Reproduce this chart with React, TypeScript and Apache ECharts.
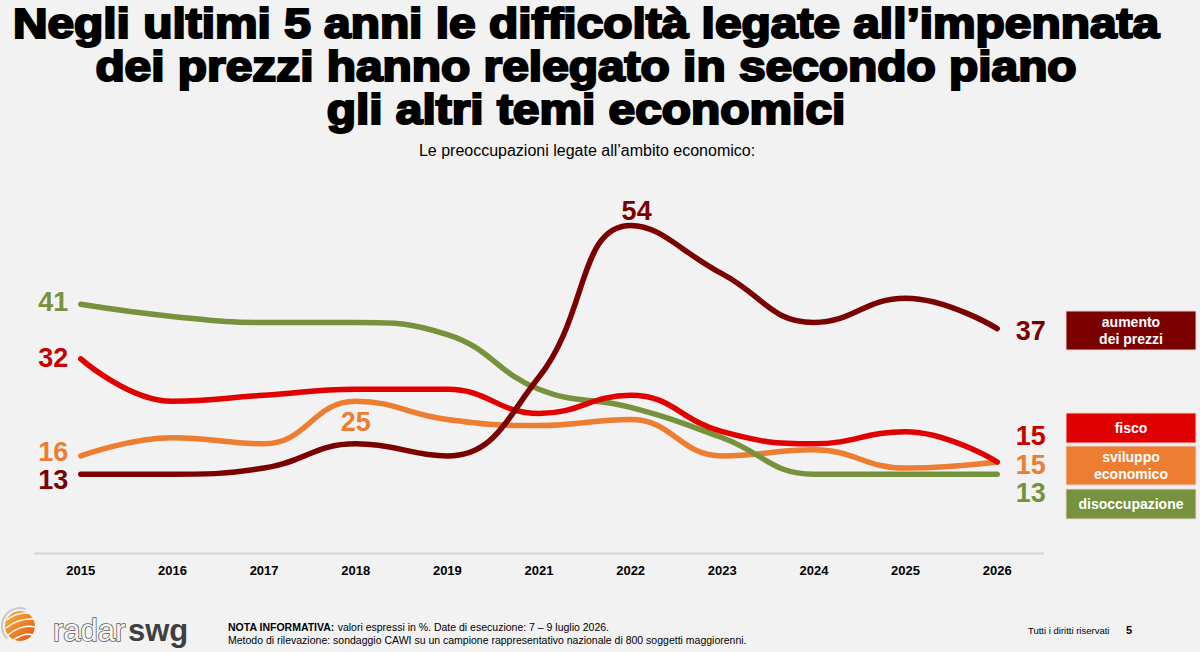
import React, { useEffect, useRef } from "react";
import * as echarts from "echarts";

const years = ["2015", "2016", "2017", "2018", "2019", "2021", "2022", "2023", "2024", "2025", "2026"];
const prezzi = [13, 13, 14, 18, 16, 29, 54, 46, 38, 42, 37];
const fisco = [32, 25, 26, 27, 27, 23, 26, 20, 18, 20, 15];
const sviluppo = [16, 19, 18, 25, 22, 21, 22, 16, 17, 14, 15];
const disoccupazione = [41, 39, 38, 38, 36, 27, 24, 19, 13, 13, 13];

const titleLines = [
  "Negli ultimi 5 anni le difficoltà legate all\u2019impennata",
  "dei prezzi hanno relegato in secondo piano",
  "gli altri temi economici",
];
const subtitle = "Le preoccupazioni legate all\u2019ambito economico:";
const legendNames = ["aumento\ndei prezzi", "fisco", "sviluppo\neconomico", "disoccupazione"];

const C_PREZZI = "#7b0000";
const C_FISCO = "#e10000";
const C_FISCO_LBL = "#c80000";
const C_SVIL = "#ed7d31";
const C_DIS = "#76923c";
const FF = "'Liberation Sans', Arial, sans-serif";

function build(vals: number[], labelColor: string, cfg: Record<number, any>) {
  return vals.map((v, i) =>
    cfg[i]
      ? {
          value: v,
          label: {
            show: true,
            color: labelColor,
            fontSize: 27,
            lineHeight: 24,
            fontWeight: "bold",
            fontFamily: FF,
            ...cfg[i],
          },
        }
      : v
  );
}

const last = years.length - 1;

export default function App() {
  const ref = useRef<HTMLDivElement>(null);
  useEffect(() => {
    const chart = echarts.init(ref.current!, null, { renderer: "svg" });
    const lineSeries = (name: string, data: any[], color: string) => ({
      name,
      type: "line",
      data,
      smooth: 0.45,
      symbol: "circle",
      symbolSize: 1,
      itemStyle: { color },
      lineStyle: { color, width: 5.5, cap: "round" },
      emphasis: { disabled: true },
      label: { show: false },
    });
    const legendBoxes = [
      { y: 311, h: 39, color: C_PREZZI, text: legendNames[0] },
      { y: 413, h: 30, color: C_FISCO, text: legendNames[1] },
      { y: 446, h: 39, color: C_SVIL, text: legendNames[2] },
      { y: 489, h: 30, color: C_DIS, text: legendNames[3] },
    ];
    const graphics: any[] = [];
    titleLines.forEach((t, i) => {
      graphics.push({
        type: "text",
        x: 586,
        y: 24 + i * 43,
        scaleX: 1.14,
        style: {
          text: t,
          x: 0,
          y: 0,
          textAlign: "center",
          textVerticalAlign: "middle",
          font: `bold 42px ${FF}`,
          lineHeight: 40,
          fill: "#000",
          stroke: "#000",
          lineWidth: 2.2,
        },
      });
    });
    graphics.push({
      type: "text",
      x: 587,
      y: 150,
      style: {
        text: subtitle,
        textAlign: "center",
        textVerticalAlign: "middle",
        font: `16px ${FF}`,
        fill: "#000",
      },
    });
    legendBoxes.forEach((b) => {
      graphics.push({
        type: "rect",
        shape: { x: 1066, y: b.y, width: 130, height: b.h },
        style: { fill: b.color, stroke: "#f3d2d2", lineWidth: 1 },
      });
      graphics.push({
        type: "text",
        x: 1131,
        y: b.y + b.h / 2,
        style: {
          text: b.text,
          textAlign: "center",
          textVerticalAlign: "middle",
          font: `bold 14px ${FF}`,
          lineHeight: 17,
          fill: "#fff",
        },
      });
    });
    // logo
    graphics.push({
      type: "arc",
      shape: { cx: 20, cy: 626, r: 18, startAngle: Math.PI * 0.75, endAngle: Math.PI * 1.6 },
      style: { stroke: "#c8c8c8", lineWidth: 2, fill: null },
    });
    graphics.push({
      type: "circle",
      shape: { cx: 20, cy: 626, r: 15 },
      style: {
        fill: new echarts.graphic.LinearGradient(0, 0, 1, 1, [
          { offset: 0, color: "#fbb03b" },
          { offset: 1, color: "#e2570f" },
        ]),
      },
    });
    [
      [7, 620, 16, 612, 29, 613],
      [6, 628, 18, 618, 34, 619],
      [8, 635, 22, 624, 35, 627],
      [13, 640, 25, 632, 33, 635],
    ].forEach((c) => {
      graphics.push({
        type: "bezierCurve",
        shape: { x1: c[0], y1: c[1], cpx1: c[2], cpy1: c[3], x2: c[4], y2: c[5] },
        style: { stroke: "#fff", lineWidth: 1.5, fill: null },
      });
    });
    graphics.push({
      type: "text",
      x: 53,
      y: 630,
      style: {
        text: "radar",
        textVerticalAlign: "middle",
        font: `31px ${FF}`,
        fill: "#f7f7f7",
        stroke: "#5a5a5a",
        lineWidth: 1.6,
      },
    });
    graphics.push({
      type: "text",
      x: 128,
      y: 630,
      style: {
        text: "swg",
        textVerticalAlign: "middle",
        font: `bold 31px ${FF}`,
        fill: "#3f3f3f",
      },
    });
    graphics.push({
      type: "text",
      x: 228,
      y: 627,
      style: {
        text: "{b|NOTA INFORMATIVA:} valori espressi in %. Date di esecuzione: 7 \u2013 9 luglio 2026.",
        textVerticalAlign: "middle",
        font: `10.5px ${FF}`,
        fill: "#000",
        rich: { b: { fontWeight: "bold", fontSize: 10.5, fontFamily: FF, fill: "#000" } },
      },
    });
    graphics.push({
      type: "text",
      x: 228,
      y: 640,
      style: {
        text: "Metodo di rilevazione: sondaggio CAWI su un campione rappresentativo nazionale di 800 soggetti maggiorenni.",
        textVerticalAlign: "middle",
        font: `10.5px ${FF}`,
        fill: "#000",
      },
    });
    graphics.push({
      type: "text",
      x: 1028,
      y: 630,
      style: {
        text: "Tutti i diritti riservati",
        textVerticalAlign: "middle",
        font: `9.5px ${FF}`,
        fill: "#000",
      },
    });
    graphics.push({
      type: "text",
      x: 1126,
      y: 630,
      style: {
        text: "5",
        textVerticalAlign: "middle",
        font: `bold 11px ${FF}`,
        fill: "#000",
      },
    });

    chart.setOption({
      animation: false,
      backgroundColor: "#f2f2f2",
      grid: { left: 35, right: 157, top: 189, bottom: 99 },
      xAxis: {
        type: "category",
        data: years,
        boundaryGap: true,
        axisLine: { show: true, lineStyle: { color: "#d9d9d9", width: 2.5 } },
        axisTick: { show: false },
        axisLabel: { color: "#000", fontWeight: "bold", fontSize: 13, fontFamily: FF, margin: 11 },
        splitLine: { show: false },
      },
      yAxis: { type: "value", min: 0, max: 60, show: false, splitLine: { show: false } },
      graphic: graphics,
      series: [
        lineSeries(
          "sviluppo economico",
          build(sviluppo, C_SVIL, {
            0: { position: "left", distance: 12, offset: [0, -4] },
            3: { position: "bottom", distance: 8 },
            [last]: { position: "right", distance: 18, offset: [0, 3] },
          }),
          C_SVIL
        ),
        lineSeries(
          "disoccupazione",
          build(disoccupazione, C_DIS, {
            0: { position: "left", distance: 12, offset: [0, -2] },
            [last]: { position: "right", distance: 18, offset: [0, 19] },
          }),
          C_DIS
        ),
        lineSeries(
          "fisco",
          build(fisco, C_FISCO_LBL, {
            0: { position: "left", distance: 12, offset: [0, -1] },
            [last]: { position: "right", distance: 18, offset: [0, -26] },
          }),
          C_FISCO
        ),
        lineSeries(
          "aumento dei prezzi",
          build(prezzi, C_PREZZI, {
            0: { position: "left", distance: 12, offset: [0, 6] },
            6: { position: "top", distance: 2, offset: [6, 0] },
            [last]: { position: "right", distance: 18, offset: [0, 2] },
          }),
          C_PREZZI
        ),
      ],
    });
    return () => chart.dispose();
  }, []);
  return (
    <div
      ref={ref}
      style={{ position: "fixed", left: 0, top: 0, width: 1200, height: 652, background: "#f2f2f2" }}
    />
  );
}
